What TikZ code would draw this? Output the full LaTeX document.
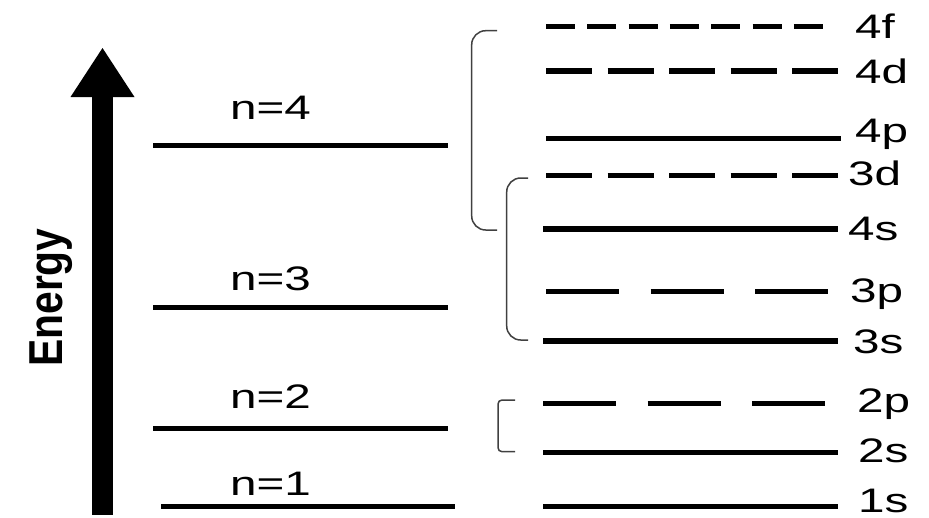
\documentclass[tikz,border=0pt]{standalone}
\usepackage{fontspec}
\setmainfont{Liberation Sans}
\usepackage{graphicx}
\newcommand\stx[1]{\scalebox{1.4}[1]{#1}}
\begin{document}
\begin{tikzpicture}[x=1pt,y=-1pt,
  level/.style={line width=5.5pt,black},
  dashA/.style={level,dash pattern=on 29pt off 12.3pt},
  dashB/.style={level,dash pattern=on 46pt off 15.5pt},
  dashC/.style={level,dash pattern=on 73pt off 31.5pt},
  brk/.style={line width=1.5pt,black!75},
  lab/.style={inner sep=0pt,anchor=base west,font=\fontsize{34}{40}\selectfont}]
\useasboundingbox (0,0) rectangle (929,517);
% Energy arrow
\coordinate (ebot) at (102.5,515);
\coordinate (ebase) at (102.5,97);
\coordinate (etip) at (102.5,48);
\fill ([xshift=-10.5pt]ebot) rectangle ([xshift=10.5pt]ebase);
\fill ([xshift=-32pt]ebase) -- (etip) -- ([xshift=32pt]ebase) -- cycle;
\node[inner sep=0pt,anchor=base west,rotate=90,font=\fontsize{34}{40}\selectfont\bfseries] (energy) at (62,367) {\scalebox{1.2}[1.4]{Energy}};
% principal levels
\draw[level] (153,145.7) -- (448,145.7);
\draw[level] (153,307.3) -- (448,307.3);
\draw[level] (153,428.3) -- (448,428.3);
\draw[level] (161,506.7) -- (455,506.7);
\node[lab] (n4) at (230,119.5) {\stx{n=4}};
\node[lab] (n3) at (230,290) {\stx{n=3}};
\node[lab] (n2) at (230,408) {\stx{n=2}};
\node[lab] (n1) at (230,495) {\stx{n=1}};
% sublevels
\draw[dashA] (546,26.7) -- (823,26.7);
\draw[dashB] (546,71) -- (838,71);
\draw[level] (546,138.3) -- (841,138.3);
\draw[dashB] (546,175.7) -- (838,175.7);
\draw[level] (543,229) -- (838,229);
\draw[dashC] (546,291.7) -- (828,291.7);
\draw[level] (543,341) -- (838,341);
\draw[dashC] (543,403.3) -- (825,403.3);
\draw[level] (543,452.3) -- (838,452.3);
\draw[level] (543,506.7) -- (838,506.7);
\node[lab] (l4f) at (855,38) {\stx{4f}};
\node[lab] (l4d) at (855,83) {\stx{4d}};
\node[lab] (l4p) at (855,142) {\stx{4p}};
\node[lab] (l3d) at (848,185) {\stx{3d}};
\node[lab] (l4s) at (848,240) {\stx{4s}};
\node[lab] (l3p) at (850,302) {\stx{3p}};
\node[lab] (l3s) at (853,353) {\stx{3s}};
\node[lab] (l2p) at (857,412) {\stx{2p}};
\node[lab] (l2s) at (858,462) {\stx{2s}};
\node[lab] (l1s) at (858,512) {\stx{1s}};
% brackets
\draw[brk,rounded corners=14pt] (497,30.7) -- (471.7,30.7) -- (471.7,230) -- (497,230);
\draw[brk,rounded corners=14pt] (528,178) -- (506.7,178) -- (506.7,340) -- (528,340);
\draw[brk,rounded corners=4pt] (515,400) -- (498,400) -- (498,451.7) -- (515,451.7);
\end{tikzpicture}
\end{document}
